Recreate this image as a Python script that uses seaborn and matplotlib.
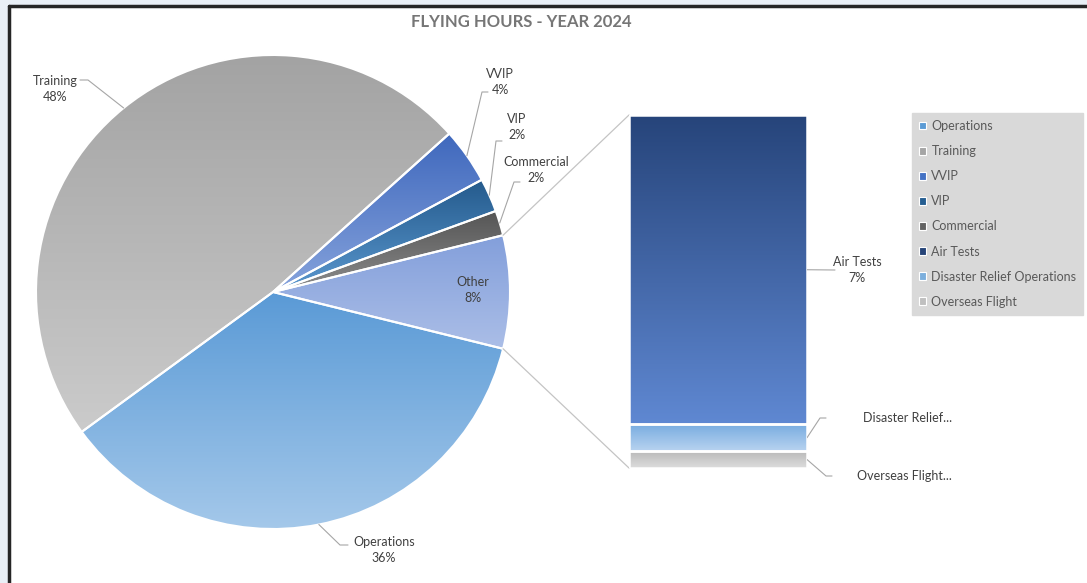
import numpy as np
import matplotlib
matplotlib.use("Agg")
import matplotlib.pyplot as plt
import seaborn as sns
from matplotlib.colors import LinearSegmentedColormap
from matplotlib.patches import Patch, Rectangle

# pie slices (share of total flying hours, %)
pie_labels = ["Operations", "Training", "VVIP", "VIP", "Commercial"]
pie_values = [36.1, 48.4, 3.8, 2.3, 1.7]
# the "Other" slice broken out in the bar
bar_labels = ["Air Tests", "Disaster Relief Operations", "Overseas Flight"]
bar_short = ["Air Tests", "Disaster Relief...", "Overseas Flight..."]
bar_values = [6.75, 0.58, 0.37]

pie_top = ["#5a9ad6", "#a3a3a3", "#3f68bd", "#245a8c", "#555555"]
pie_bot = ["#a4c8ea", "#cbcbcb", "#86a3dc", "#5b98cf", "#8c8c8c"]
other_top, other_bot = "#839fdb", "#abbee7"
bar_top = ["#26447a", "#78ace0", "#bababa"]
bar_bot = ["#5f88d2", "#b8d3f0", "#dcdcdc"]
legend_cols = ["#5b9bd5", "#a5a5a5", "#4472c4", "#255e91", "#636363",
               "#264478", "#7cafdd", "#bfbfbf"]

sns.set_theme(style="white")
plt.rcParams["font.family"] = ["Lato", "DejaVu Sans"]

W, H = 1087, 583
fig = plt.figure(figsize=(W / 100, H / 100), dpi=100, facecolor="#e9eff6")
ax = fig.add_axes([0, 0, 1, 1])
ax.axis("off")


def py(y):
    # screen row -> data y
    return H - y


def fill_gradient(a, patch, c1, c2):
    bb = patch.get_path().get_extents(patch.get_patch_transform())
    cmap = LinearSegmentedColormap.from_list("g", [c1, c2])
    grad = np.linspace(0, 1, 256).reshape(-1, 1)
    im = a.imshow(grad, cmap=cmap, extent=(bb.x0, bb.x1, bb.y0, bb.y1),
                  origin="upper", aspect="auto", zorder=1, interpolation="bicubic")
    im.set_clip_path(patch)
    patch.set_facecolor("none")
    patch.set_zorder(2)


# chart area + border
ax.add_patch(Rectangle((9, 0), W, py(6), facecolor="white", edgecolor="none", zorder=0))
ax.plot([9, 9], [0, py(6)], color="#262626", lw=2.5, zorder=0.5)
ax.plot([9, W], [py(6), py(6)], color="#262626", lw=2.5, zorder=0.5)

other = sum(bar_values)
values = pie_values + [other]
cx, cy, r = 273, py(292), 237
wedges, _ = ax.pie(values, startangle=-other * 3.6 / 2, counterclock=False,
                   center=(cx, cy), radius=r, frame=True,
                   wedgeprops=dict(edgecolor="white", linewidth=1.5))
for w, c1, c2 in zip(wedges, pie_top + [other_top], pie_bot + [other_bot]):
    fill_gradient(ax, w, c1, c2)


def edge_pt(w, frac=1.0):
    a = np.deg2rad((w.theta1 + w.theta2) / 2)
    return cx + r * frac * np.cos(a), cy + r * frac * np.sin(a)


lc = "#a6a6a6"
txt = dict(fontsize=9, color="#404040", ha="center", va="center", linespacing=1.35)
# label position, elbow, elbow end (screen px)
pie_lbl = [((384, 550), (340, 545), (348, 545)),
           ((55, 89), (88, 80), (80, 80)),
           ((500, 82), (482, 92), (488, 92)),
           ((517, 127), (496, 141), (502, 141)),
           ((536, 170), (514, 182), (520, 182))]
for w, name, v, (lp, e1, e2) in zip(wedges, pie_labels, pie_values, pie_lbl):
    x0, y0 = edge_pt(w)
    ax.plot([x0, e1[0], e2[0]], [y0, py(e1[1]), py(e2[1])], color=lc, lw=0.8, zorder=3)
    ax.text(lp[0], py(lp[1]), f"{name}\n{v:.0f}%", **txt)
ax.text(473, py(290), f"Other\n{other:.0f}%", **txt)

# bar of the "Other" slice
bx0, bx1, by0, by1 = 629, 807, 468, 115
ax2 = fig.add_axes([bx0 / W, py(by0) / H, (bx1 - bx0) / W, (by0 - by1) / H])
ax2.axis("off")
bottom = 0
bars = []
for v in reversed(bar_values):
    b = ax2.bar(0, v, width=1, bottom=bottom, edgecolor="white", linewidth=1.8)[0]
    bars.append(b)
    bottom += v
bars = bars[::-1]
ax2.set_xlim(-0.5, 0.5)
ax2.set_ylim(0, other)
for b, c1, c2 in zip(bars, bar_top, bar_bot):
    fill_gradient(ax2, b, c1, c2)

# connectors pie -> bar
ow = wedges[-1]
for th, yb in ((ow.theta2, by1), (ow.theta1, by0)):
    a = np.deg2rad(th)
    ax.plot([cx + r * np.cos(a), bx0], [cy + r * np.sin(a), py(yb)], color="#c4c4c4", lw=0.9, zorder=3)

# bar labels
bar_lbl = [((857, 270), (835, 270)), ((908, 418), (820, 418)), ((904, 476), (826, 476))]
cum = np.cumsum(bar_values[::-1])[::-1]
for i, (name, v) in enumerate(zip(bar_short, bar_values)):
    mid = cum[i] - v / 2
    ym = py(by0) + mid / other * (by0 - by1)
    lp, e = bar_lbl[i]
    if i == 0:
        ax.plot([bx1, e[0]], [ym, py(e[1])], color=lc, lw=0.8, zorder=3)
        ax.text(lp[0], py(lp[1]), f"{name}\n{v:.0f}%", **txt)
    else:
        ax.plot([bx1, e[0], e[0] + 6], [ym, py(e[1]), py(e[1])], color=lc, lw=0.8, zorder=3)
        ax.text(lp[0], py(lp[1]), name, **txt)

ax.text(521, py(22), "FLYING HOURS - YEAR 2024", fontsize=12, fontweight="bold",
        color="#767676", ha="center", va="center")

handles = [Patch(facecolor=c, edgecolor="white", lw=0.8) for c in legend_cols]
leg = ax.legend(handles, pie_labels + bar_labels, loc="upper left",
                bbox_to_anchor=(912, py(113)), bbox_transform=ax.transData,
                fontsize=9, labelcolor="#595959", frameon=True, fancybox=False,
                facecolor="#d9d9d9", edgecolor="#d9d9d9", framealpha=1,
                handlelength=0.6, handleheight=0.6, handletextpad=0.4,
                labelspacing=1.05, borderpad=0.55, borderaxespad=0)
leg.set_zorder(5)

ax.set_xlim(0, W)
ax.set_ylim(0, H)
ax.set_aspect("auto")
fig.savefig("out.png", dpi=100, facecolor=fig.get_facecolor())
